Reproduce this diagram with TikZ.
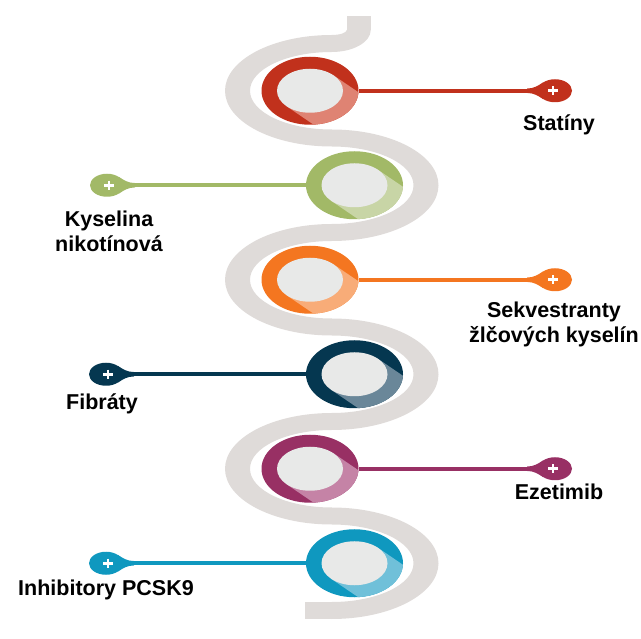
\documentclass[tikz,border=0pt]{standalone}
\usepackage{fontspec}
\setmainfont{Liberation Sans}
\usetikzlibrary{shapes.geometric}
\definecolor{bandgrey}{HTML}{DFDBD9}
\definecolor{innergrey}{HTML}{E8E9E8}
\definecolor{redD}{HTML}{C1311C}
\definecolor{redL}{HTML}{DF8373}
\definecolor{greenD}{HTML}{A2B967}
\definecolor{greenL}{HTML}{C8D5A6}
\definecolor{orangeD}{HTML}{F47620}
\definecolor{orangeL}{HTML}{F8AC78}
\definecolor{navyD}{HTML}{053750}
\definecolor{navyL}{HTML}{6A8799}
\definecolor{magD}{HTML}{983064}
\definecolor{magL}{HTML}{C583A6}
\definecolor{blueD}{HTML}{0F98BF}
\definecolor{blueL}{HTML}{70C0D9}
\tikzset{
  ringpic/.pic={
    \fill[\tikzpicturedark] (0,0) ellipse[x radius=48.5, y radius=34];
    \begin{scope}
      \clip (0,0) ellipse[x radius=48.5, y radius=34];
      \fill[\tikzpicturelight] (23.3,-15.6) -- (103.3,38.8) -- (56.7,70.0) -- (-23.3,15.6) -- cycle;
    \end{scope}
    \fill[innergrey] (0,0) ellipse[x radius=33, y radius=22];
  },
  spoonpic/.pic={
    \fill[\tikzpicturedark] (2,0) ellipse[x radius=17, y radius=11.5];
    \fill[\tikzpicturedark] (-26,-2.2) .. controls (-19,-2.2) and (-15,-5) .. (-10,-8.3)
         -- (-10,8.3) .. controls (-15,5) and (-19,2.2) .. (-26,2.2) -- cycle;
    \draw[white, line width=2.8] (-4.6,0) -- (4.6,0) (0,-4.6) -- (0,4.6);
  },
  ringanchor/.style={ellipse, minimum width=97, minimum height=68, inner sep=0, draw=none},
  conn/.style={line width=4.4},
  lbl/.style={font=\fontsize{21.5}{25}\selectfont\bfseries, anchor=base, inner sep=0, align=center},
  band/.style={fill=bandgrey}
}
\newcommand{\setcols}[2]{\def\tikzpicturedark{#1}\def\tikzpicturelight{#2}}
\begin{document}
\begin{tikzpicture}[x=1pt,y=-1pt]
\useasboundingbox (0,0) rectangle (641,639);
% serpentine band
\fill[band] (346.75,16) rectangle (370.75,30.5);
\fill[band] (370.75,30) arc[start angle=0, end angle=90, x radius=39, y radius=22]
   -- (331.75,35) arc[start angle=90, end angle=0, x radius=15, y radius=5] -- cycle;
\foreach \cy in {90.75,279.75,468.75}{
  \fill[band] (331.75,\cy-55.75) arc[start angle=270, end angle=90, x radius=106.75, y radius=55.75]
     -- (331.75,\cy+38.75) arc[start angle=90, end angle=270, x radius=81.75, y radius=38.75] -- cycle;
}
\foreach \cy in {185.25,374.25,563.25}{
  \fill[band] (331.75,\cy-55.75) arc[start angle=-90, end angle=90, x radius=106.75, y radius=55.75]
     -- (331.75,\cy+38.75) arc[start angle=90, end angle=-90, x radius=81.75, y radius=38.75] -- cycle;
}
\fill[band] (305,602) rectangle (332,619);
% rings
\setcols{redD}{redL}    \pic at (310,90.75) {ringpic};
\setcols{greenD}{greenL}\pic at (354.5,185.25) {ringpic};
\setcols{orangeD}{orangeL}\pic at (310,279.75) {ringpic};
\setcols{navyD}{navyL}  \pic at (354.5,374.25) {ringpic};
\setcols{magD}{magL}    \pic at (310,468.75) {ringpic};
\setcols{blueD}{blueL}  \pic at (354.5,563.25) {ringpic};
\node[ringanchor] (ring1) at (310,90.75) {};
\node[ringanchor] (ring2) at (354.5,185.25) {};
\node[ringanchor] (ring3) at (310,279.75) {};
\node[ringanchor] (ring4) at (354.5,374.25) {};
\node[ringanchor] (ring5) at (310,468.75) {};
\node[ringanchor] (ring6) at (354.5,563.25) {};
% markers
\setcols{redD}{redL}      \pic at (553,90.75) {spoonpic};
\setcols{greenD}{greenL}  \pic[xscale=-1] at (109,185.25) {spoonpic};
\setcols{orangeD}{orangeL}\pic at (553,279.75) {spoonpic};
\setcols{navyD}{navyL}    \pic[xscale=-1] at (108,374.25) {spoonpic};
\setcols{magD}{magL}      \pic at (553,468.75) {spoonpic};
\setcols{blueD}{blueL}    \pic[xscale=-1] at (108,563.25) {spoonpic};
\coordinate (tip1) at (527,90.75);
\coordinate (tip2) at (135,185.25);
\coordinate (tip3) at (527,279.75);
\coordinate (tip4) at (134,374.25);
\coordinate (tip5) at (527,468.75);
\coordinate (tip6) at (134,563.25);
% connectors
\draw[conn, redD]    (ring1.east) -- (tip1);
\draw[conn, greenD]  (ring2.west) -- (tip2);
\draw[conn, orangeD] (ring3.east) -- (tip3);
\draw[conn, navyD]   (ring4.west) -- (tip4);
\draw[conn, magD]    (ring5.east) -- (tip5);
\draw[conn, blueD]   (ring6.west) -- (tip6);
% labels (anchor=base is at the last line's baseline)
\node[lbl] (l1) at (559,131) {Statíny};
\node[lbl] (l2) at (109,252) {Kyselina\\nikotínová};
\node[lbl] (l3) at (554,343) {Sekvestranty\\žlčových kyselín};
\node[lbl] (l4) at (102,410) {Fibráty};
\node[lbl] (l5) at (559,500) {Ezetimib};
\node[lbl] (l6) at (106,595) {Inhibitory PCSK9};
\end{tikzpicture}
\end{document}
